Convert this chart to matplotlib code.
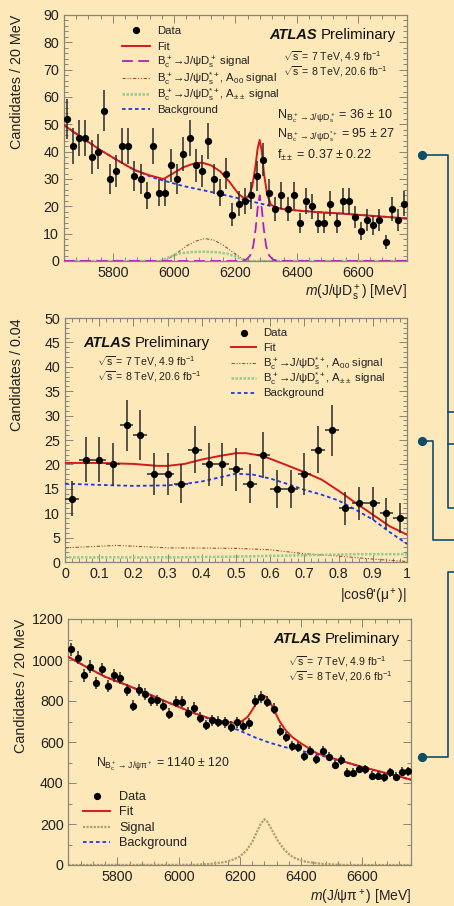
import numpy as np
import matplotlib.pyplot as plt
from matplotlib.lines import Line2D
from matplotlib.legend import Legend
from matplotlib.ticker import MultipleLocator

# ------------------------------------------------
# Data
# ------------------------------------------------
mass_bins = np.arange(5650, 6760, 20)

# top panel: m(J/psi Ds+)
ds_counts = [52, 42, 45, 45, 38, 40, 55, 30, 33, 42, 42, 31, 30, 24, 42, 25, 25, 35, 30, 39,
             45, 35, 33, 44, 30, 25, 32, 17, 21, 22, 24, 31, 37, 25, 19, 24, 19, 24, 14, 22,
             20, 14, 14, 21, 14, 22, 22, 16, 11, 15, 13, 15, 7, 19, 15, 21]
ds_fit_m = [5640, 5700, 5760, 5820, 5870, 5920, 5965, 5995, 6030, 6060, 6090, 6120, 6150, 6180,
            6210, 6230, 6245, 6255, 6265, 6272, 6279, 6286, 6293, 6303, 6315, 6330, 6360, 6420,
            6480, 6540, 6600, 6660, 6720, 6760]
ds_fit = [49.7, 45.0, 40.5, 36.5, 33.3, 31.3, 30.0, 32.0, 34.3, 35.5, 36.0, 35.0, 32.8, 29.0,
          24.5, 22.8, 24.0, 27.5, 34.5, 41.0, 44.3, 40.0, 32.0, 24.5, 20.7, 19.6, 18.9, 18.3,
          17.8, 17.4, 16.9, 16.4, 15.9, 15.5]
ds_bkg_m = [5640, 5700, 5760, 5820, 5870, 5920, 5940, 6030, 6140, 6245, 6312, 6360, 6420, 6480,
            6540, 6600, 6660, 6720, 6760]
ds_bkg = [49.7, 45.0, 40.5, 36.5, 33.3, 31.0, 30.2, 27.4, 24.8, 22.0, 20.2, 18.9, 18.3, 17.8,
          17.4, 16.9, 16.4, 15.9, 15.5]
ds_sig_m = [5640, 6220, 6235, 6248, 6258, 6266, 6272, 6279, 6286, 6292, 6300, 6310, 6323, 6340, 6760]
ds_sig = [0, 0, 0.5, 2.0, 5.5, 12.0, 19.0, 24.0, 19.0, 12.0, 5.5, 2.0, 0.5, 0, 0]
a00_m = [5640, 5950, 5980, 6010, 6040, 6070, 6100, 6130, 6160, 6190, 6220, 6245, 6760]
a00_sig = [0, 0, 0.8, 3.0, 5.5, 7.3, 8.2, 7.6, 5.8, 3.3, 1.0, 0, 0]
app_m = [5640, 5955, 5985, 6020, 6060, 6100, 6140, 6175, 6205, 6235, 6760]
app_sig = [0, 0, 1.5, 2.8, 3.3, 3.4, 3.2, 2.6, 1.4, 0, 0]

# middle panel: |cos theta'(mu+)|
cos_bins = np.arange(0.02, 1.0, 0.04)
cos_counts = [13, 21, 21, 20, 28, 26, 18, 18, 16, 23, 20, 20, 19, 16, 22, 15, 15, 18, 23, 27,
              11, 12, 12, 10, 9]
cos_fit_x = [0, 0.1, 0.2, 0.27, 0.3, 0.35, 0.4, 0.45, 0.5, 0.53, 0.58, 0.65, 0.7, 0.75, 0.8,
             0.85, 0.9, 0.95, 1.0]
cos_fit = [20.3, 20.3, 20.1, 19.7, 19.7, 20.1, 21.0, 21.7, 22.3, 22.3, 21.7, 19.8, 18.4, 16.9,
           14.6, 12.1, 9.7, 7.3, 5.6]
cos_bkg_x = [0, 0.1, 0.2, 0.3, 0.35, 0.4, 0.45, 0.5, 0.55, 0.6, 0.65, 0.7, 0.75, 0.8, 0.85,
             0.9, 0.95, 1.0]
cos_bkg = [16.05, 15.8, 15.6, 15.7, 16.0, 16.5, 17.3, 18.1, 17.9, 17.1, 16.0, 14.8, 13.8, 12.6,
           10.7, 8.7, 6.1, 3.7]
cos_a00_x = [0, 0.15, 0.3, 0.5, 0.6, 0.7, 0.8, 0.9, 1.0]
cos_a00 = [2.9, 3.4, 2.9, 2.8, 2.5, 1.7, 1.2, 0.6, 0.1]
cos_app_x = [0, 0.3, 0.5, 0.7, 0.85, 1.0]
cos_app = [0.95, 0.95, 1.1, 1.4, 1.6, 1.6]

# bottom panel: m(J/psi pi+)
pi_counts = [1052, 1011, 925, 967, 888, 956, 872, 925, 911, 852, 777, 852, 833, 803, 803, 777,
             737, 797, 797, 743, 767, 719, 683, 707, 699, 696, 675, 696, 678, 691, 800, 818,
             797, 763, 655, 626, 582, 574, 530, 558, 515, 558, 528, 489, 512, 450, 450, 468,
             467, 436, 436, 428, 452, 431, 455, 457]
pi_fit_m = [5640, 5700, 5760, 5830, 5900, 5970, 6048, 6100, 6150, 6180, 6205, 6225, 6242, 6256,
            6268, 6278, 6288, 6300, 6315, 6330, 6348, 6370, 6400, 6450, 6500, 6550, 6600, 6650,
            6700, 6760]
pi_fit = [1015, 965, 918, 878, 835, 790, 742, 716, 698, 694, 700, 722, 760, 795, 818, 826, 818,
          790, 745, 700, 660, 625, 593, 546, 522, 500, 478, 459, 440, 416]
pi_bkg_m = [5640, 5700, 5760, 5830, 5900, 5970, 6048, 6100, 6150, 6200, 6250, 6300, 6350, 6400,
            6450, 6500, 6550, 6600, 6650, 6700, 6760]
pi_bkg = [1015, 965, 918, 878, 835, 790, 742, 712, 684, 655, 622, 595, 574, 557, 540, 520, 499,
          477, 458, 439, 415]
pi_sig_m = [5640, 6050, 6100, 6150, 6180, 6200, 6220, 6240, 6255, 6268, 6280, 6290, 6305, 6325,
            6345, 6365, 6385, 6415, 6465, 6510, 6560, 6760]
pi_sig = [0, 1, 5, 14, 27, 42, 68, 112, 160, 200, 223, 210, 170, 115, 75, 46, 30, 16, 6, 2, 0, 0]

# ------------------------------------------------
# Style
# ------------------------------------------------
BG = '#FCE8B9'
TEAL = '#0F4C6A'
RED = '#D41A1A'
BLUE = '#2233EE'
PURPLE = '#B01EC0'
BROWN = '#A0522D'
GREEN = '#93CC93'
TAN = '#B89A70'
FRAME = '#85857A'

plt.rcParams['font.family'] = ['Liberation Sans', 'DejaVu Sans']
plt.rcParams['mathtext.fontset'] = 'custom'
plt.rcParams['mathtext.rm'] = 'Liberation Sans'
plt.rcParams['mathtext.it'] = 'Liberation Sans:italic'
plt.rcParams['mathtext.bf'] = 'Liberation Sans:bold'
plt.rcParams['text.color'] = '#222222'

W, H = 454, 906
fig = plt.figure(figsize=(W / 100, H / 100), dpi=100, facecolor=BG)


def frac(x, y):
    return x / W, 1 - y / H


def make_axes(left, top, right, bottom):
    ax = fig.add_axes([left / W, 1 - bottom / H, (right - left) / W, (bottom - top) / H])
    ax.set_facecolor(BG)
    for sp in ax.spines.values():
        sp.set_color(FRAME)
        sp.set_linewidth(0.9)
    ax.tick_params(which='both', direction='in', top=True, right=True, colors=FRAME,
                   labelcolor='#222222', labelsize=10.3, width=0.7)
    ax.tick_params(which='major', length=5.5)
    ax.tick_params(which='minor', length=2.8)
    return ax


def data_points(ax, x, y, xerr=None):
    y = np.array(y, dtype=float)
    ax.errorbar(x, y, yerr=np.sqrt(y), xerr=xerr, fmt='o', color='black', ms=4.2,
                ecolor='#2a2a2a', elinewidth=1.1, capsize=0, zorder=6)


def line_handle(**kw):
    return Line2D([], [], **kw)


data_h = line_handle(marker='o', color='black', ls='none', ms=4.2)
fit_h = line_handle(color=RED, lw=1.4)
bkg_h = line_handle(color=BLUE, lw=1.3, ls=(0, (2, 1.6)))
sig_h = line_handle(color=PURPLE, lw=1.3, ls=(0, (6, 3)))
a00_h = line_handle(color=BROWN, lw=0.8, ls=(0, (3, 1.5, 1, 1.5, 1, 1.5)))
app_h = line_handle(color=GREEN, lw=1.8, ls=(0, (1, 0.6)))
tan_h = line_handle(color=TAN, lw=1.6, ls=(0, (1, 0.6)))

LBL_SIG = r'B$_\mathrm{c}^+$→J/ψD$_\mathrm{s}^+$ signal'
LBL_A00 = r'B$_\mathrm{c}^+$→J/ψD$_\mathrm{s}^{*+}$, A$_{00}$ signal'
LBL_APP = r'B$_\mathrm{c}^+$→J/ψD$_\mathrm{s}^{*+}$, A$_{\pm\pm}$ signal'


def add_legend(ax, handles, labels, x0, rows_px, bottom_px, height_px, size, hlen, pad=0.6):
    # one single-entry legend per row, so rows keep an even pitch
    for h, lab, yp in zip(handles, labels, rows_px):
        leg = Legend(ax, [h], [lab], loc='center left',
                     bbox_to_anchor=(x0, (bottom_px - yp) / height_px), frameon=False,
                     fontsize=size, handlelength=hlen, handletextpad=pad,
                     borderpad=0, borderaxespad=0)
        ax.add_artist(leg)


def atlas_label(x, y):
    fig.text(*frac(x, y), 'ATLAS', fontsize=10.5, fontweight='bold', style='italic',
             color='#111111', va='center')
    fig.text(*frac(x + 52, y), 'Preliminary', fontsize=10.8, color='#111111', va='center')


def energy_label(x, y):
    fig.text(*frac(x, y), r'$\sqrt{\mathrm{s}}$ = 7 TeV, 4.9 fb$^{-1}$', fontsize=7.6, va='center')
    fig.text(*frac(x, y + 15), r'$\sqrt{\mathrm{s}}$ = 8 TeV, 20.6 fb$^{-1}$', fontsize=7.6, va='center')


# ------------------------------------------------
# Top panel
# ------------------------------------------------
ax1 = make_axes(64, 15, 407, 261)
ax1.plot(ds_bkg_m, ds_bkg, color=BLUE, lw=1.3, ls=(0, (2, 1.6)), zorder=2)
ax1.plot(a00_m, a00_sig, color=BROWN, lw=0.8, ls=(0, (3, 1.5, 1, 1.5, 1, 1.5)), zorder=2)
ax1.plot(app_m, app_sig, color=GREEN, lw=1.8, ls=(0, (1, 0.6)), zorder=2)
ax1.plot(ds_sig_m, ds_sig, color=PURPLE, lw=1.3, ls=(0, (6, 3)), zorder=3)
ax1.plot(ds_fit_m, ds_fit, color=RED, lw=1.4, zorder=4)
data_points(ax1, mass_bins, ds_counts)
ax1.set_xlim(5640, 6760)
ax1.set_ylim(0, 90)
ax1.xaxis.set_major_locator(MultipleLocator(200))
ax1.xaxis.set_minor_locator(MultipleLocator(40))
ax1.yaxis.set_major_locator(MultipleLocator(10))
ax1.yaxis.set_minor_locator(MultipleLocator(2))
add_legend(ax1, [data_h, fit_h, sig_h, a00_h, app_h, bkg_h],
           ['Data', 'Fit', LBL_SIG, LBL_A00, LBL_APP, 'Background'],
           0.169, [31, 46.5, 62.5, 78.5, 94.5, 110], 261, 246, 8.2, 2.5)
atlas_label(269, 35)
energy_label(283, 57)
fig.text(*frac(277, 116), r'N$_{\mathrm{B_c^+\rightarrow J/ψD_s^+}}$ = 36 ± 10', fontsize=9, va='center')
fig.text(*frac(277, 135), r'N$_{\mathrm{B_c^+\rightarrow J/ψD_s^{*+}}}$ = 95 ± 27', fontsize=9, va='center')
fig.text(*frac(277, 155), r'f$_{\pm\pm}$ = 0.37 ± 0.22', fontsize=9, va='center')
fig.text(*frac(407, 293), r'$m$(J/ψD$_\mathrm{s}^+$) [MeV]', fontsize=10, ha='right', va='center')
fig.text(*frac(17, 15), 'Candidates / 20 MeV', fontsize=10.4, rotation=90, ha='center', va='top')

# ------------------------------------------------
# Middle panel
# ------------------------------------------------
ax2 = make_axes(65, 318, 407, 562)
ax2.plot(cos_a00_x, cos_a00, color=BROWN, lw=0.8, ls=(0, (3, 1.5, 1, 1.5, 1, 1.5)), zorder=2)
ax2.plot(cos_app_x, cos_app, color=GREEN, lw=1.8, ls=(0, (1, 0.6)), zorder=2)
ax2.plot(cos_bkg_x, cos_bkg, color=BLUE, lw=1.3, ls=(0, (2, 1.6)), zorder=3)
ax2.plot(cos_fit_x, cos_fit, color=RED, lw=1.4, zorder=4)
data_points(ax2, cos_bins, cos_counts, xerr=0.02)
ax2.set_xlim(0, 1)
ax2.set_ylim(0, 50)
ax2.xaxis.set_minor_locator(MultipleLocator(0.02))
ax2.yaxis.set_major_locator(MultipleLocator(5))
ax2.yaxis.set_minor_locator(MultipleLocator(1))
ax2.set_xticks(np.arange(0, 1.01, 0.1))
ax2.set_xticklabels(['0', '0.1', '0.2', '0.3', '0.4', '0.5', '0.6', '0.7', '0.8', '0.9', '1'])
add_legend(ax2, [data_h, fit_h, a00_h, app_h, bkg_h],
           ['Data', 'Fit', LBL_A00, LBL_APP, 'Background'],
           0.485, [333.5, 348, 363.5, 378.5, 393.5], 562, 244, 8.2, 2.25)
atlas_label(83, 343)
energy_label(97, 362)
fig.text(*frac(407, 596), "|cosθ'(μ$^+$)|", fontsize=10, ha='right', va='center')
fig.text(*frac(17, 318), 'Candidates / 0.04', fontsize=10.4, rotation=90, ha='center', va='top')

# ------------------------------------------------
# Bottom panel
# ------------------------------------------------
ax3 = make_axes(68.4, 619, 411.4, 865)
ax3.plot(pi_sig_m, pi_sig, color=TAN, lw=1.6, ls=(0, (1, 0.6)), zorder=2)
ax3.plot(pi_bkg_m, pi_bkg, color=BLUE, lw=1.3, ls=(0, (2, 1.6)), zorder=3)
ax3.plot(pi_fit_m, pi_fit, color=RED, lw=1.4, zorder=4)
data_points(ax3, mass_bins, pi_counts)
ax3.set_xlim(5640, 6760)
ax3.set_ylim(0, 1200)
ax3.xaxis.set_major_locator(MultipleLocator(200))
ax3.xaxis.set_minor_locator(MultipleLocator(40))
ax3.yaxis.set_major_locator(MultipleLocator(200))
ax3.yaxis.set_minor_locator(MultipleLocator(100))
add_legend(ax3, [data_h, fit_h, tan_h, bkg_h], ['Data', 'Fit', 'Signal', 'Background'],
           0.043, [797, 812, 828, 843], 865, 246, 9.2, 2.1, pad=0.7)
atlas_label(273, 639)
energy_label(288, 662)
fig.text(*frac(96, 764), r'N$_{\mathrm{B_c^+\rightarrow J/ψπ^+}}$ = 1140 ± 120', fontsize=8.8, va='center')
fig.text(*frac(411, 898), r'$m$(J/ψπ$^+$) [MeV]', fontsize=10, ha='right', va='center')
fig.text(*frac(21, 619), 'Candidates / 20 MeV', fontsize=10.4, rotation=90, ha='center', va='top')

# ------------------------------------------------
# Connector lines on the right
# ------------------------------------------------
connectors = [
    [(422, 155), (448, 155), (448, 508), (454, 508)],
    [(448, 412), (454, 412)],
    [(448, 444), (454, 444)],
    [(422, 440.5), (433, 440.5), (433, 540), (454, 540)],
    [(422, 757), (448, 757), (448, 572), (454, 572)],
]
for path in connectors:
    xs = [p[0] / W for p in path]
    ys = [1 - p[1] / H for p in path]
    fig.add_artist(Line2D(xs, ys, color=TEAL, lw=1.2, transform=fig.transFigure))
for dot in [(422, 155), (422, 440.5), (422, 757)]:
    fig.add_artist(Line2D([dot[0] / W], [1 - dot[1] / H], marker='o', ms=5.6, color=TEAL,
                          transform=fig.transFigure))

fig.savefig('out.png', dpi=100, facecolor=BG)
